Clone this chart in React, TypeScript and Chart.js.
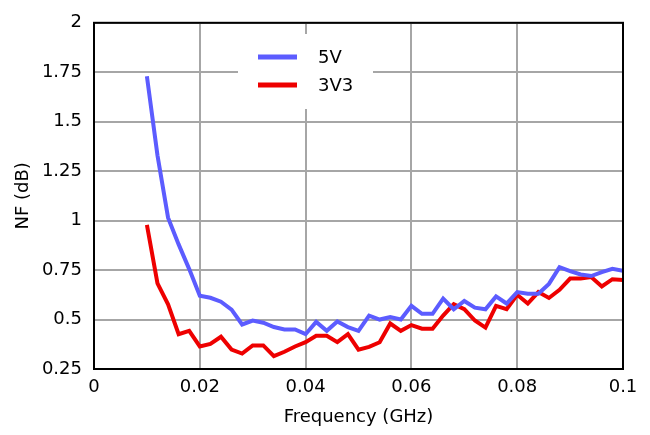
import React, { useEffect, useRef } from "react";
import { Chart, registerables } from "chart.js";

Chart.register(...registerables);

const freqGHz = [
  0.010, 0.012, 0.014, 0.016, 0.018, 0.020, 0.022, 0.024, 0.026, 0.028,
  0.030, 0.032, 0.034, 0.036, 0.038, 0.040, 0.042, 0.044, 0.046, 0.048,
  0.050, 0.052, 0.054, 0.056, 0.058, 0.060, 0.062, 0.064, 0.066, 0.068,
  0.070, 0.072, 0.074, 0.076, 0.078, 0.080, 0.082, 0.084, 0.086, 0.088,
  0.090, 0.092, 0.094, 0.096, 0.098, 0.100,
];

const nf5V = [
  1.73, 1.33, 1.015, 0.88, 0.755, 0.62, 0.61, 0.59, 0.55, 0.475,
  0.495, 0.484, 0.462, 0.45, 0.45, 0.426, 0.488, 0.443, 0.49, 0.462,
  0.443, 0.52, 0.50, 0.513, 0.50, 0.569, 0.529, 0.529, 0.606, 0.552,
  0.594, 0.56, 0.552, 0.617, 0.581, 0.639, 0.63, 0.63, 0.68, 0.765,
  0.745, 0.728, 0.72, 0.74, 0.756, 0.746,
];

const nf3V3 = [
  0.979, 0.683, 0.577, 0.426, 0.443, 0.364, 0.377, 0.413, 0.348, 0.328,
  0.369, 0.369, 0.315, 0.337, 0.364, 0.386, 0.418, 0.418, 0.386, 0.426,
  0.348, 0.362, 0.385, 0.48, 0.443, 0.472, 0.454, 0.454, 0.52, 0.578,
  0.552, 0.495, 0.459, 0.569, 0.552, 0.625, 0.581, 0.639, 0.609, 0.65,
  0.707, 0.707, 0.715, 0.667, 0.704, 0.70,
];

const seriesNames = ["5V", "3V3"];
const seriesColors = ["#5c5cff", "#ee0000"];

const xTickValues = [0, 0.02, 0.04, 0.06, 0.08, 0.1];
const xTickLabels = ["0", "0.02", "0.04", "0.06", "0.08", "0.1"];
const yTickValues = [0.25, 0.5, 0.75, 1, 1.25, 1.5, 1.75, 2];
const yTickLabels = ["0.25", "0.5", "0.75", "1", "1.25", "1.5", "1.75", "2"];

const xTitle = "Frequency (GHz)";
const yTitle = "NF (dB)";

const FONT = "'DejaVu Sans', Verdana, sans-serif";
const FS = 18;

export default function App() {
  const canvasRef = useRef<HTMLCanvasElement | null>(null);

  useEffect(() => {
    document.body.style.margin = "0";
    const canvas = canvasRef.current;
    if (!canvas) return;

    const legendPlugin = {
      id: "boxLegend",
      afterDatasetsDraw(chart: any) {
        const ctx = chart.ctx;
        ctx.save();
        ctx.fillStyle = "#ffffff";
        ctx.fillRect(238, 34, 135, 75);
        const rows = [57, 85];
        seriesNames.forEach((name, i) => {
          ctx.strokeStyle = seriesColors[i];
          ctx.lineWidth = 5;
          ctx.beginPath();
          ctx.moveTo(258, rows[i]);
          ctx.lineTo(297, rows[i]);
          ctx.stroke();
          ctx.fillStyle = "#000000";
          ctx.font = `${FS}px ${FONT}`;
          ctx.textBaseline = "middle";
          ctx.textAlign = "left";
          ctx.fillText(name, 318, rows[i] + 1);
        });
        ctx.restore();
      },
    };

    const framePlugin = {
      id: "frame",
      afterDraw(chart: any) {
        const { left, right, top, bottom } = chart.chartArea;
        const ctx = chart.ctx;
        ctx.save();
        ctx.strokeStyle = "#000000";
        ctx.lineWidth = 2;
        ctx.strokeRect(left, top, right - left, bottom - top);
        ctx.restore();
      },
    };

    const chart = new Chart(canvas, {
      type: "line",
      data: {
        datasets: [
          {
            label: seriesNames[0],
            data: freqGHz.map((f, i) => ({ x: f, y: nf5V[i] })),
            borderColor: seriesColors[0],
            backgroundColor: seriesColors[0],
            borderWidth: 4,
            pointRadius: 0,
            tension: 0,
          },
          {
            label: seriesNames[1],
            data: freqGHz.map((f, i) => ({ x: f, y: nf3V3[i] })),
            borderColor: seriesColors[1],
            backgroundColor: seriesColors[1],
            borderWidth: 4,
            pointRadius: 0,
            tension: 0,
          },
        ],
      },
      options: {
        responsive: false,
        animation: false,
        events: [],
        layout: { padding: { top: 12, right: 27, left: 0, bottom: 0 } },
        plugins: {
          legend: { display: false },
          tooltip: { enabled: false },
        },
        scales: {
          x: {
            type: "linear",
            min: 0,
            max: 0.1,
            afterBuildTicks: (scale: any) => {
              scale.ticks = xTickValues.map((v) => ({ value: v }));
            },
            afterFit: (scale: any) => {
              scale.height = 66;
            },
            grid: { color: "#a6a6a6", lineWidth: 2, drawTicks: false },
            border: { display: false },
            ticks: {
              padding: 8,
              color: "#000000",
              font: { family: FONT, size: FS },
              maxRotation: 0,
              autoSkip: false,
              callback: (_v: any, i: number) => xTickLabels[i],
            },
            title: {
              display: true,
              text: xTitle,
              color: "#000000",
              font: { family: FONT, size: FS },
              padding: { top: 0, bottom: 7 },
            },
          },
          y: {
            type: "linear",
            min: 0.25,
            max: 2,
            afterBuildTicks: (scale: any) => {
              scale.ticks = yTickValues.map((v) => ({ value: v }));
            },
            afterFit: (scale: any) => {
              scale.width = 94;
            },
            grid: { color: "#a6a6a6", lineWidth: 2, drawTicks: false },
            border: { display: false },
            ticks: {
              padding: 12,
              color: "#000000",
              font: { family: FONT, size: FS },
              autoSkip: false,
              callback: (_v: any, i: number) => yTickLabels[i],
            },
            title: {
              display: true,
              text: yTitle,
              color: "#000000",
              font: { family: FONT, size: FS },
              padding: { top: 13, bottom: 0 },
            },
          },
        },
      },
      plugins: [legendPlugin, framePlugin],
    });

    return () => {
      chart.destroy();
    };
  }, []);

  return (
    <div style={{ position: "absolute", left: 0, top: 0, width: 650, height: 435 }}>
      <canvas ref={canvasRef} width={650} height={435} />
    </div>
  );
}
